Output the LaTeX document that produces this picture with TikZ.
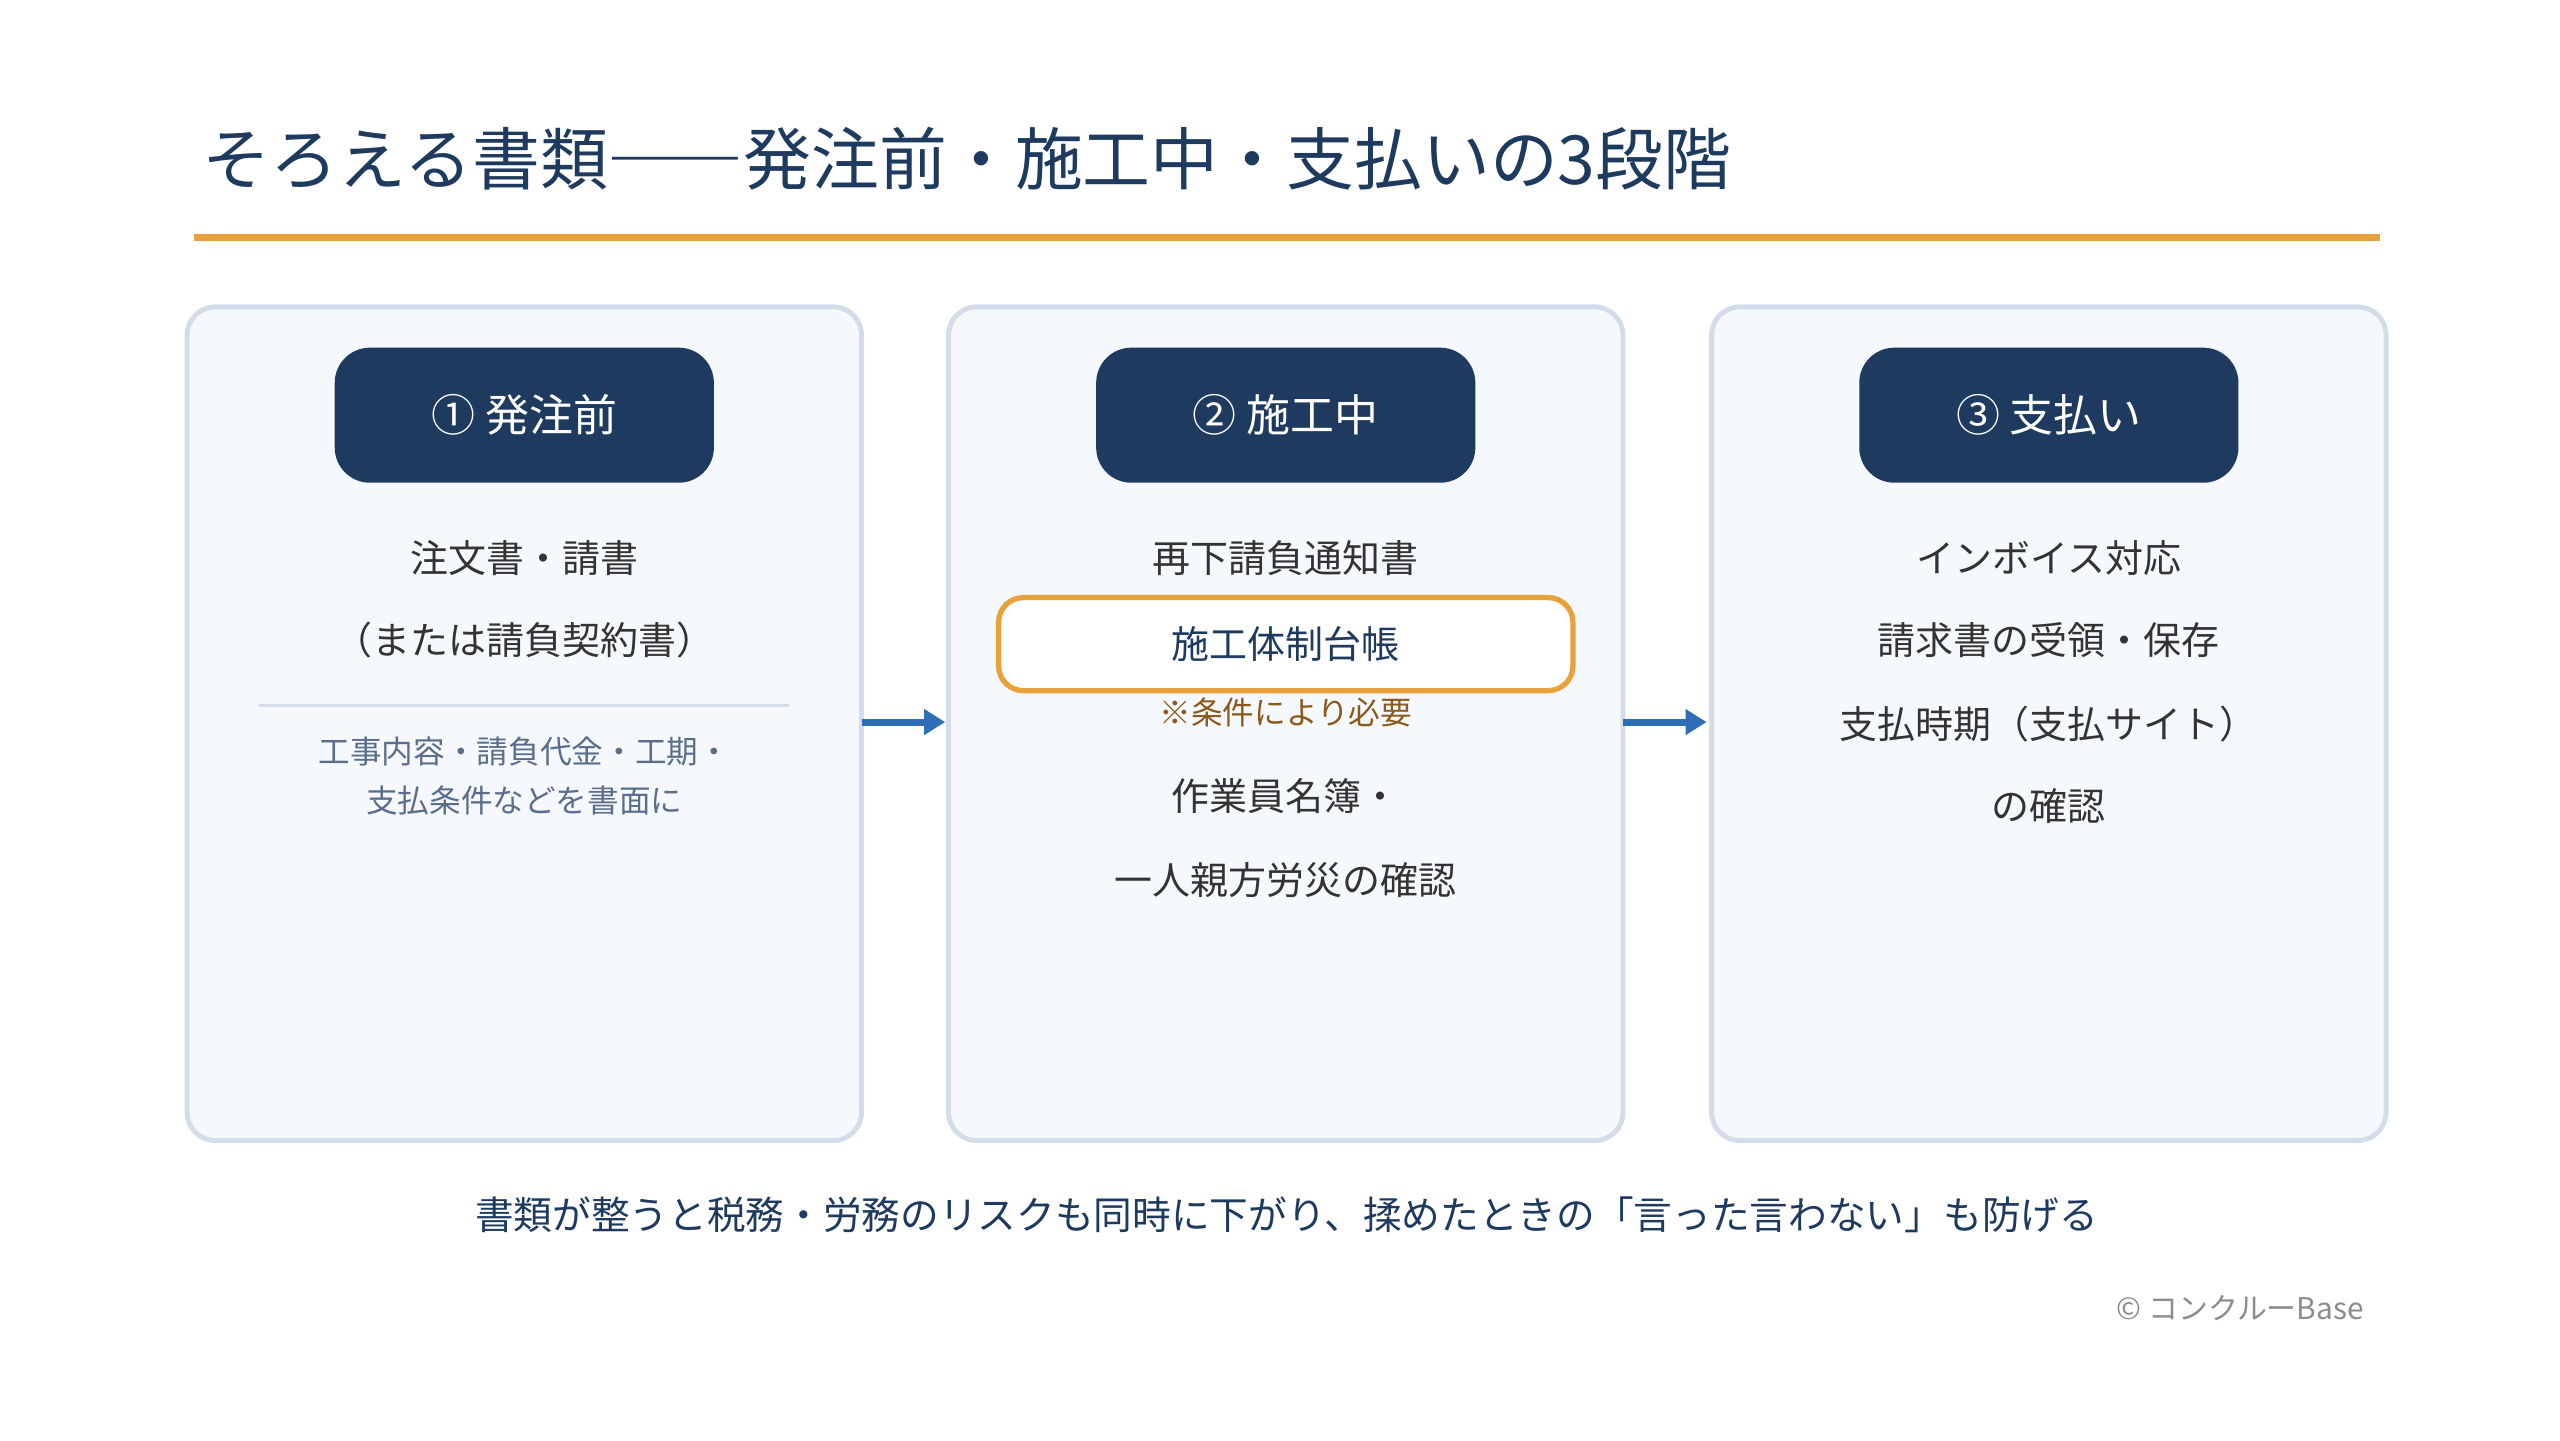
\documentclass[tikz,border=0pt]{standalone}
\usepackage{fontspec}
\setmainfont{Noto Sans CJK JP}
\usetikzlibrary{positioning,arrows.meta}
\definecolor{navy}{HTML}{1E3A5F}
\definecolor{panelfill}{HTML}{F5F8FC}
\definecolor{panelline}{HTML}{D3DDEA}
\definecolor{accent}{HTML}{E9A13B}
\definecolor{flow}{HTML}{2F6DB5}
\definecolor{note}{HTML}{5A6E8C}
\definecolor{cond}{HTML}{8B5A1A}
\tikzset{
  panel/.style={draw=panelline, line width=1.4pt, fill=panelfill, rounded corners=8pt},
  pill/.style={fill=navy, rounded corners=10pt, text=white, font=\fontsize{12.5}{15}\selectfont, minimum width=3.79cm, minimum height=1.35cm},
  item/.style={text=black!80, font=\fontsize{10.8}{13}\selectfont},
  small/.style={text=note, font=\fontsize{9}{14}\selectfont, align=center},
  flowarrow/.style={draw=flow, line width=2pt, -{Triangle[length=6pt,width=7pt]}}
}
\begin{document}
\begin{tikzpicture}[x=0.01641cm, y=-0.01641cm]
\useasboundingbox (0,0) rectangle (1560,878);
% title
\node[anchor=west, text=navy, font=\fontsize{19.3}{23}\selectfont] (title) at (116,97) {そろえる書類――発注前・施工中・支払いの3段階};
\draw[accent, line width=2pt] (118,145) -- (1450,145);
% panels
\draw[panel] (114,187) rectangle (525,695);
\draw[panel] (578,187) rectangle (989,695);
\draw[panel] (1043,187) rectangle (1454,695);
% headers
\node[pill] (h1) at (319.5,253) {① 発注前};
\node[pill] (h2) at (783.5,253) {② 施工中};
\node[pill] (h3) at (1248.5,253) {③ 支払い};
% phase 1
\node[item] (a1) at (319.5,340) {注文書・請書};
\node[item] (a2) at (319.5,390) {（または請負契約書）};
\draw[panelline, line width=1pt] (158,430) -- (481,430);
\node[small] (a3) at (319.5,473) {工事内容・請負代金・工期・\\支払条件などを書面に};
% phase 2
\node[item] (b1) at (783.5,340) {再下請負通知書};
\node[draw=accent, line width=1.5pt, fill=white, rounded corners=7pt, minimum width=5.74cm, minimum height=0.93cm, text=navy, font=\fontsize{10.8}{13}\selectfont] (b2) at (783.5,392.5) {施工体制台帳};
\node[text=cond, font=\fontsize{9}{10}\selectfont] (b3) at (783.5,434) {※条件により必要};
\node[item] (b4) at (783.5,485) {作業員名簿・};
\node[item] (b5) at (783.5,536) {一人親方労災の確認};
% phase 3
\node[item] (c1) at (1248.5,340) {インボイス対応};
\node[item] (c2) at (1248.5,390) {請求書の受領・保存};
\node[item] (c3) at (1248.5,441) {支払時期（支払サイト）};
\node[item] (c4) at (1248.5,491) {の確認};
% arrows
\coordinate (p1) at (525,440); \coordinate (q1) at (576,440);
\coordinate (p2) at (989,440); \coordinate (q2) at (1040,440);
\draw[flowarrow] (p1) -- (q1);
\draw[flowarrow] (p2) -- (q2);
% footer
\node[text=navy, font=\fontsize{11}{13}\selectfont] (foot) at (784,740) {書類が整うと税務・労務のリスクも同時に下がり、揉めたときの「言った言わない」も防げる};
\node[anchor=east, text=black!45, font=\fontsize{8.5}{10}\selectfont] (copy) at (1448,797) {© コンクルーBase};
\end{tikzpicture}
\end{document}
